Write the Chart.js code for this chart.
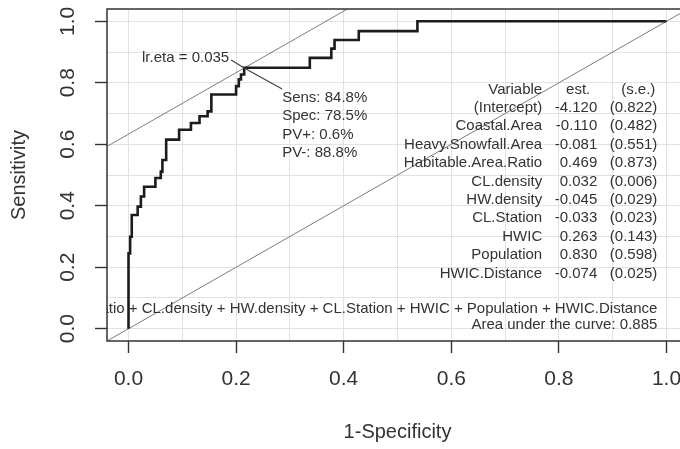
<!DOCTYPE html>
<html>
<head>
<meta charset="utf-8">
<script src="https://cdn.jsdelivr.net/npm/chart.js@4"></script>
<style>
  html, body { margin: 0; padding: 0; background: #fff; overflow: hidden; }
  #wrap { width: 700px; height: 449px; }
</style>
</head>
<body>
<div id="wrap"><canvas id="chart-roc"></canvas></div>
<script>
// ROC corners (1-specificity, sensitivity); drawn vertical step first, then across
const fpr = [0, 0.003, 0.006, 0.017, 0.023, 0.029, 0.050, 0.060, 0.063, 0.070, 0.094, 0.116, 0.132,
	0.147, 0.154, 0.200, 0.205, 0.209, 0.215, 0.337, 0.377, 0.383, 0.428, 0.537, 1.0];
const tpr = [0, 0.245, 0.299, 0.370, 0.397, 0.430, 0.462, 0.490, 0.511, 0.549, 0.615, 0.647, 0.669,
	0.691, 0.707, 0.762, 0.789, 0.811, 0.827, 0.849, 0.881, 0.911, 0.939, 0.968, 1.0];

const gridVals = [0, 0.1, 0.2, 0.3, 0.4, 0.5, 0.6, 0.7, 0.8, 0.9, 1.0];
const tickVals = [0, 0.2, 0.4, 0.6, 0.8, 1.0];
const tickLabels = ['0.0', '0.2', '0.4', '0.6', '0.8', '1.0'];

// optimal cut-off
const cutLabel = 'lr.eta = 0.035';
const optSens = 0.848;
const optSpec = 0.785;
const cutInfo = ['Sens: 84.8%', 'Spec: 78.5%', 'PV+: 0.6%', 'PV-: 88.8%'];

// model summary
const tableHead = ['Variable', 'est.', '(s.e.)'];
const tableVars = ['(Intercept)', 'Coastal.Area', 'Heavy.Snowfall.Area', 'Habitable.Area.Ratio', 'CL.density',
	'HW.density', 'CL.Station', 'HWIC', 'Population', 'HWIC.Distance'];
const tableEst = ['-4.120', '-0.110', '-0.081', '0.469', '0.032', '-0.045', '-0.033', '0.263', '0.830', '-0.074'];
const tableSE = ['(0.822)', '(0.482)', '(0.551)', '(0.873)', '(0.006)', '(0.029)', '(0.023)', '(0.143)', '(0.598)', '(0.025)'];
const formula = 'lr.eta ~ Coastal.Area + Heavy.Snowfall.Area + Habitable.Area.Ratio + CL.density + HW.density + CL.Station + HWIC + Population + HWIC.Distance';
const aucText = 'Area under the curve: 0.885';

const FONT = '"Liberation Sans", Arial, sans-serif';
const TXT = '#333';

// line of slope 1 across the whole plot range
function diagLine(b) {
	return [{ x: -0.04, y: -0.04 + b }, { x: 1.04, y: 1.04 + b }];
}

const isMajor = (v) => tickVals.some((t) => Math.abs(t - v) < 1e-6);

const annotate = {
	id: 'annotate',
	afterDatasetsDraw(chart) {
		const { ctx, chartArea: a } = chart;
		const xs = chart.scales.x;
		const ys = chart.scales.y;
		ctx.save();

		// box
		ctx.strokeStyle = '#333';
		ctx.lineWidth = 1.5;
		ctx.strokeRect(a.left, a.top, a.right - a.left, a.bottom - a.top);

		// cut-off pointer
		const px = xs.getPixelForValue(1 - optSpec);
		const py = ys.getPixelForValue(optSens);
		ctx.strokeStyle = '#444';
		ctx.lineWidth = 1.2;
		ctx.beginPath();
		ctx.moveTo(px - 13, py - 8);
		ctx.lineTo(px, py);
		ctx.lineTo(px + 38, py + 21);
		ctx.stroke();

		ctx.fillStyle = TXT;
		ctx.font = '15px ' + FONT;
		ctx.textBaseline = 'middle';
		ctx.textAlign = 'right';
		ctx.fillText(cutLabel, px - 15, py - 10);

		ctx.textAlign = 'left';
		cutInfo.forEach((s, i) => ctx.fillText(s, px + 38, py + 30 + i * 18.3));

		// table
		const cVar = xs.getPixelForValue(0.769);
		const cEst = xs.getPixelForValue(0.8713);
		const cSE = xs.getPixelForValue(0.983);
		const row0 = ys.getPixelForValue(0.778);
		ctx.textAlign = 'right';
		ctx.fillText(tableHead[0], cVar, row0);
		ctx.fillText(tableHead[1], cEst - 7, row0);
		ctx.fillText(tableHead[2], cSE - 2, row0);
		tableVars.forEach((v, i) => {
			const y = row0 + (i + 1) * 18.4;
			ctx.fillText(v, cVar, y);
			ctx.fillText(tableEst[i], cEst, y);
			ctx.fillText(tableSE[i], cSE, y);
		});

		// formula and AUC, clipped to the plot region
		ctx.beginPath();
		ctx.rect(a.left, a.top, a.right - a.left, a.bottom - a.top);
		ctx.clip();
		ctx.fillText(formula, cSE, ys.getPixelForValue(0.066));
		ctx.fillText(aucText, cSE, ys.getPixelForValue(0.014));
		ctx.restore();
	},
};

!(function () {
	const ctx = document.getElementById('chart-roc');

	const tickFont = { family: FONT, size: 21 };
	const titleFont = { family: FONT, size: 20 };
	const grid = {
		color: '#e2e2e2',
		lineWidth: 1,
		tickLength: 12,
		tickWidth: 1.4,
		tickColor: (c) => (c.tick && isMajor(c.tick.value) ? '#333' : 'rgba(0,0,0,0)'),
	};
	const label = (v) => {
		const i = tickVals.findIndex((t) => Math.abs(t - v) < 1e-6);
		return i < 0 ? '' : tickLabels[i];
	};

	new Chart(ctx, {
		type: 'scatter',
		data: {
			datasets: [
				{
					label: 'ROC',
					data: fpr.map((x, i) => ({ x, y: tpr[i] })),
					showLine: true,
					stepped: 'after',
					borderColor: '#1c1c1c',
					borderWidth: 2.6,
					borderJoinStyle: 'miter',
					pointRadius: 0,
				},
				{
					label: 'chance',
					data: diagLine(0),
					showLine: true,
					borderColor: '#7d7d7d',
					borderWidth: 1,
					pointRadius: 0,
				},
				{
					label: 'optimal',
					data: diagLine(optSens - (1 - optSpec)),
					showLine: true,
					borderColor: '#7d7d7d',
					borderWidth: 1,
					pointRadius: 0,
				},
			],
		},
		options: {
			responsive: true,
			maintainAspectRatio: false,
			animation: false,
			layout: { padding: { top: 9, right: 12, left: 0, bottom: 0 } },
			plugins: {
				legend: { display: false },
				tooltip: { enabled: false },
			},
			scales: {
				x: {
					type: 'linear',
					min: -0.04,
					max: 1.04,
					afterBuildTicks: (s) => {
						s.ticks = gridVals.map((v) => ({ value: v }));
					},
					afterFit: (s) => {
						s.height = 108;
						s.paddingLeft = 0;
						s.paddingRight = 0;
					},
					grid: grid,
					border: { display: false },
					ticks: {
						autoSkip: false,
						maxRotation: 0,
						padding: 14,
						font: tickFont,
						color: TXT,
						callback: label,
					},
					title: {
						display: true,
						text: '1-Specificity',
						font: titleFont,
						color: TXT,
						padding: { top: 0, bottom: 5 },
					},
				},
				y: {
					type: 'linear',
					min: -0.04,
					max: 1.04,
					afterBuildTicks: (s) => {
						s.ticks = gridVals.map((v) => ({ value: v }));
					},
					afterFit: (s) => {
						s.width = 107;
						s.paddingTop = 0;
						s.paddingBottom = 0;
					},
					grid: grid,
					border: { display: false },
					ticks: {
						autoSkip: false,
						minRotation: 90,
						maxRotation: 90,
						crossAlign: 'center',
						padding: 12,
						font: tickFont,
						color: TXT,
						callback: label,
					},
					title: {
						display: true,
						text: 'Sensitivity',
						font: titleFont,
						color: TXT,
						padding: { top: 7, bottom: 0 },
					},
				},
			},
		},
		plugins: [annotate],
	});
})();
</script>
</body>
</html>
